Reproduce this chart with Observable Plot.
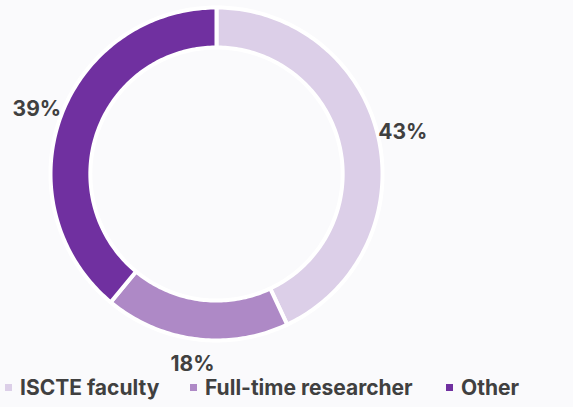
<!DOCTYPE html>
<html>
<head>
<meta charset="utf-8">
<script src="https://cdn.jsdelivr.net/npm/d3@7"></script>
<script src="https://cdn.jsdelivr.net/npm/@observablehq/plot@0.6"></script>
<style>
  html, body { margin: 0; padding: 0; background: #fafafc; }
  #chart { width: 573px; height: 407px; position: relative; overflow: hidden; }
  #chart svg { position: absolute; left: 0; top: 0; }
  .legend { position: absolute; left: 0; top: 371px; width: 573px; height: 32px; font-family: Inter, "Open Sans", sans-serif; font-weight: 700; font-size: 21px; color: #404040; }
  .item { position: absolute; top: 0; display: flex; align-items: center; height: 32px; white-space: nowrap; }
  .sw { width: 7px; height: 7px; margin-right: 8px; display: inline-block; }
</style>
</head>
<body>
<div id="chart"></div>
<script>
const categories = ["ISCTE faculty", "Full-time researcher", "Other"];
const values = [43, 18, 39];
const labels = ["43%", "18%", "39%"];
const colors = ["#dccfe8", "#ae89c6", "#7030a0"];

const total = d3.sum(values);
const inner = 0.76;
const rows = [];
const labelRows = [];
let acc = 0;
categories.forEach((c, i) => {
  const a0 = acc / total * 2 * Math.PI;
  acc += values[i];
  const a1 = acc / total * 2 * Math.PI;
  const n = Math.max(2, Math.ceil((a1 - a0) / (Math.PI / 180)));
  const pts = [];
  for (let k = 0; k <= n; k++) { const a = a0 + (a1 - a0) * k / n; pts.push({a, r: 1}); }
  for (let k = n; k >= 0; k--) { const a = a0 + (a1 - a0) * k / n; pts.push({a, r: inner}); }
  pts.forEach(p => rows.push({cat: c, x: p.r * Math.sin(p.a), y: p.r * Math.cos(p.a)}));
  const am = (a0 + a1) / 2;
  labelRows.push({cat: c, label: labels[i], x: 1.15 * Math.sin(am), y: 1.15 * Math.cos(am)});
});

const plot = Plot.plot({
  width: 573,
  height: 407,
  margin: 0,
  style: {background: "transparent", overflow: "visible"},
  x: {domain: [-1, 1], range: [50, 382], axis: null},
  y: {domain: [-1, 1], range: [340, 7], axis: null},
  color: {domain: categories, range: colors},
  marks: [
    Plot.line(rows, {x: "x", y: "y", z: "cat", fill: "cat", stroke: "white", strokeWidth: 4, curve: "linear-closed"}),
    Plot.text(labelRows, {x: "x", y: "y", text: "label", fill: "#404040", fontSize: 21, fontWeight: 700, fontFamily: "Inter, 'Open Sans', sans-serif"})
  ]
});
const chart = document.getElementById("chart");
chart.appendChild(plot);

const legend = document.createElement("div");
legend.className = "legend";
const lefts = [5, 190, 446];
categories.forEach((c, i) => {
  const it = document.createElement("div");
  it.className = "item";
  it.style.left = lefts[i] + "px";
  const sw = document.createElement("span");
  sw.className = "sw";
  sw.style.background = colors[i];
  it.appendChild(sw);
  it.appendChild(document.createTextNode(c));
  legend.appendChild(it);
});
chart.appendChild(legend);
</script>
</body>
</html>
